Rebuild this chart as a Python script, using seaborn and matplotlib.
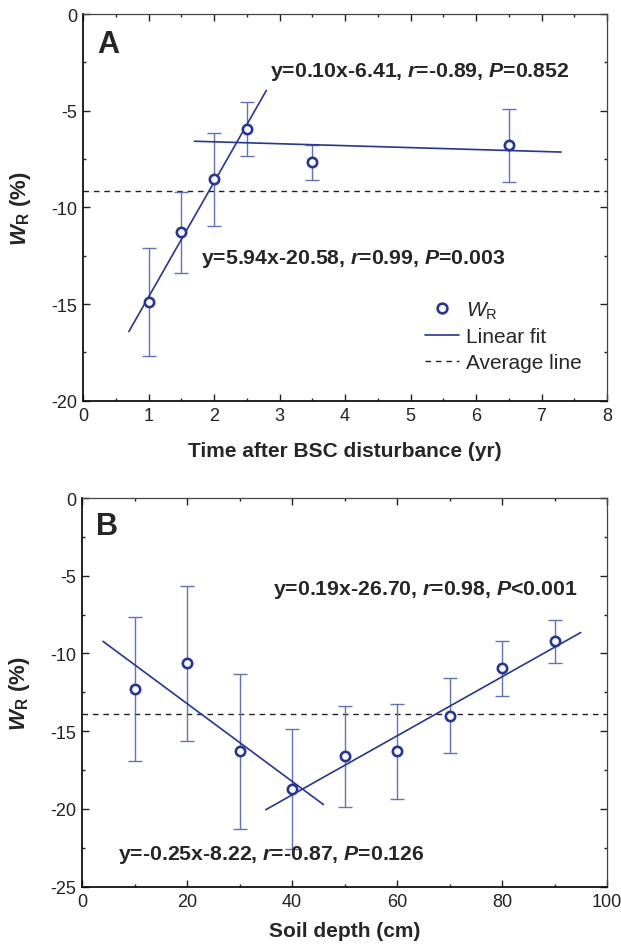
import numpy as np
import pandas as pd
import matplotlib
matplotlib.use("Agg")
import matplotlib.pyplot as plt
import seaborn as sns
from matplotlib.lines import Line2D
from matplotlib.ticker import MultipleLocator

# ---------------- data ----------------
# Panel A
time_yr = [1.0, 1.5, 2.0, 2.5, 3.5, 6.5]
wr_time = [-14.9, -11.3, -8.55, -5.94, -7.68, -6.80]
wr_time_err = [2.80, 2.07, 2.42, 1.40, 0.93, 1.87]
avg_time = -9.18
fitA_slopes = [5.94, -0.10]
fitA_intercepts = [-20.58, -6.41]
fitA_ranges = [(0.7, 2.8), (1.7, 7.3)]
fitA_labels = [r"y=5.94x-20.58, $\mathbf{r}$=0.99, $\mathbf{P}$=0.003",
               r"y=0.10x-6.41, $\mathbf{r}$=-0.89, $\mathbf{P}$=0.852"]

# Panel B
depth_cm = [10, 20, 30, 40, 50, 60, 70, 80, 90]
wr_depth = [-12.28, -10.63, -16.30, -18.73, -16.60, -16.30, -14.00, -10.95, -9.22]
wr_depth_err = [4.62, 4.97, 4.96, 3.87, 3.25, 3.08, 2.43, 1.76, 1.37]
avg_depth = -13.89
fitB_slopes = [-0.25, 0.19]
fitB_intercepts = [-8.22, -26.70]
fitB_ranges = [(4, 46), (35, 95)]
fitB_labels = [r"y=-0.25x-8.22, $\mathbf{r}$=-0.87, $\mathbf{P}$=0.126",
               r"y=0.19x-26.70, $\mathbf{r}$=0.98, $\mathbf{P}$<0.001"]

# ---------------- style ----------------
sns.set_style("ticks")
plt.rcParams["font.family"] = ["Liberation Sans", "DejaVu Sans"]
plt.rcParams["axes.unicode_minus"] = False
plt.rcParams["mathtext.fontset"] = "custom"
plt.rcParams["mathtext.rm"] = "Liberation Sans"
plt.rcParams["mathtext.it"] = "Liberation Sans:italic"
plt.rcParams["mathtext.bf"] = "Liberation Sans:bold:italic"
plt.rcParams["mathtext.sf"] = "Liberation Sans:bold"

NAVY = "#26359a"
ERR = "#6371b8"
FS = 15

fig = plt.figure(figsize=(6.21, 9.45), dpi=100)
axA = fig.add_axes([83 / 621, 1 - 401.7 / 945, 524 / 621, 386.7 / 945])
axB = fig.add_axes([82 / 621, 1 - 887.7 / 945, 525 / 621, 388.7 / 945])


def draw_panel(ax, x, y, yerr, avg, slopes, intercepts, ranges):
    ax.errorbar(x, y, yerr=yerr, fmt="none", ecolor=ERR, elinewidth=1.0,
                capsize=5, capthick=1.0, zorder=2)
    for s, b, (x0, x1) in zip(slopes, intercepts, ranges):
        xs = np.array([x0, x1])
        df = pd.DataFrame({"x": xs, "y": s * xs + b})
        sns.lineplot(data=df, x="x", y="y", ax=ax, color=NAVY, lw=1.2, zorder=3)
    ax.axhline(avg, color="#222222", lw=1.0, ls=(0, (4, 3.5)), zorder=1)
    sns.scatterplot(x=x, y=y, ax=ax, marker="o", s=45, facecolor="white",
                    edgecolor=NAVY, linewidth=1.9, zorder=4)


def style_axes(ax, xmaj, xmin, ymaj, ymin):
    ax.xaxis.set_major_locator(MultipleLocator(xmaj))
    ax.xaxis.set_minor_locator(MultipleLocator(xmin))
    ax.yaxis.set_major_locator(MultipleLocator(ymaj))
    ax.yaxis.set_minor_locator(MultipleLocator(ymin))
    ax.tick_params(which="both", direction="in", top=True, right=True,
                   labelsize=13, colors="#222222", width=1.0)
    ax.tick_params(which="major", length=4.8)
    ax.tick_params(which="minor", length=2.4)
    ax.tick_params(axis="x", which="major", pad=4.5)
    ax.tick_params(axis="y", which="major", pad=4)
    for sp in ["left", "bottom"]:
        ax.spines[sp].set_linewidth(1.3)
        ax.spines[sp].set_color("#111111")
    for sp in ["top", "right"]:
        ax.spines[sp].set_visible(True)
        ax.spines[sp].set_linewidth(0.9)
        ax.spines[sp].set_color("#444444")
    ax.set_ylabel(r"$\mathbf{W}_{\mathsf{R}}$ (%)", fontsize=16, fontweight="bold")
    ax.yaxis.set_label_coords(-0.095, 0.5)


# Panel A
draw_panel(axA, time_yr, wr_time, wr_time_err, avg_time,
           fitA_slopes, fitA_intercepts, fitA_ranges)
axA.set_xlim(0, 8)
axA.set_ylim(-20, 0)
style_axes(axA, 1, 0.5, 5, 2.5)
axA.set_xlabel("Time after BSC disturbance (yr)", fontsize=FS, fontweight="bold")
axA.xaxis.set_label_coords(0.5, -0.103)
axA.text(0.027, 0.922, "A", transform=axA.transAxes, fontsize=22,
         fontweight="bold", va="center", ha="left")
axA.text(1.80, -12.6, fitA_labels[0], fontsize=15.3, fontweight="bold", va="center")
axA.text(2.85, -2.95, fitA_labels[1], fontsize=15.3, fontweight="bold", va="center")

handles = [Line2D([], [], marker="o", ls="none", mfc="white", mec=NAVY, mew=1.9, ms=7),
           Line2D([], [], color=NAVY, lw=1.2),
           Line2D([], [], color="#222222", lw=1.0, ls=(0, (4, 3.5)))]
labels = [r"$W_{\mathrm{R}}$", "Linear fit", "Average line"]
axA.legend(handles, labels, loc="upper left", bbox_to_anchor=(0.653, 0.262),
           frameon=False, fontsize=FS, handlelength=1.63, handletextpad=0.32,
           labelspacing=0.32, borderpad=0, borderaxespad=0)

# Panel B
draw_panel(axB, depth_cm, wr_depth, wr_depth_err, avg_depth,
           fitB_slopes, fitB_intercepts, fitB_ranges)
axB.set_xlim(0, 100)
axB.set_ylim(-25, 0)
style_axes(axB, 20, 10, 5, 2.5)
axB.set_xlabel("Soil depth (cm)", fontsize=FS, fontweight="bold")
axB.xaxis.set_label_coords(0.5, -0.087)
axB.text(0.027, 0.929, "B", transform=axB.transAxes, fontsize=22,
         fontweight="bold", va="center", ha="left")
axB.text(6.8, -22.9, fitB_labels[0], fontsize=15.3, fontweight="bold", va="center")
axB.text(36.4, -5.85, fitB_labels[1], fontsize=15.3, fontweight="bold", va="center")

fig.savefig("out.png", dpi=100)
